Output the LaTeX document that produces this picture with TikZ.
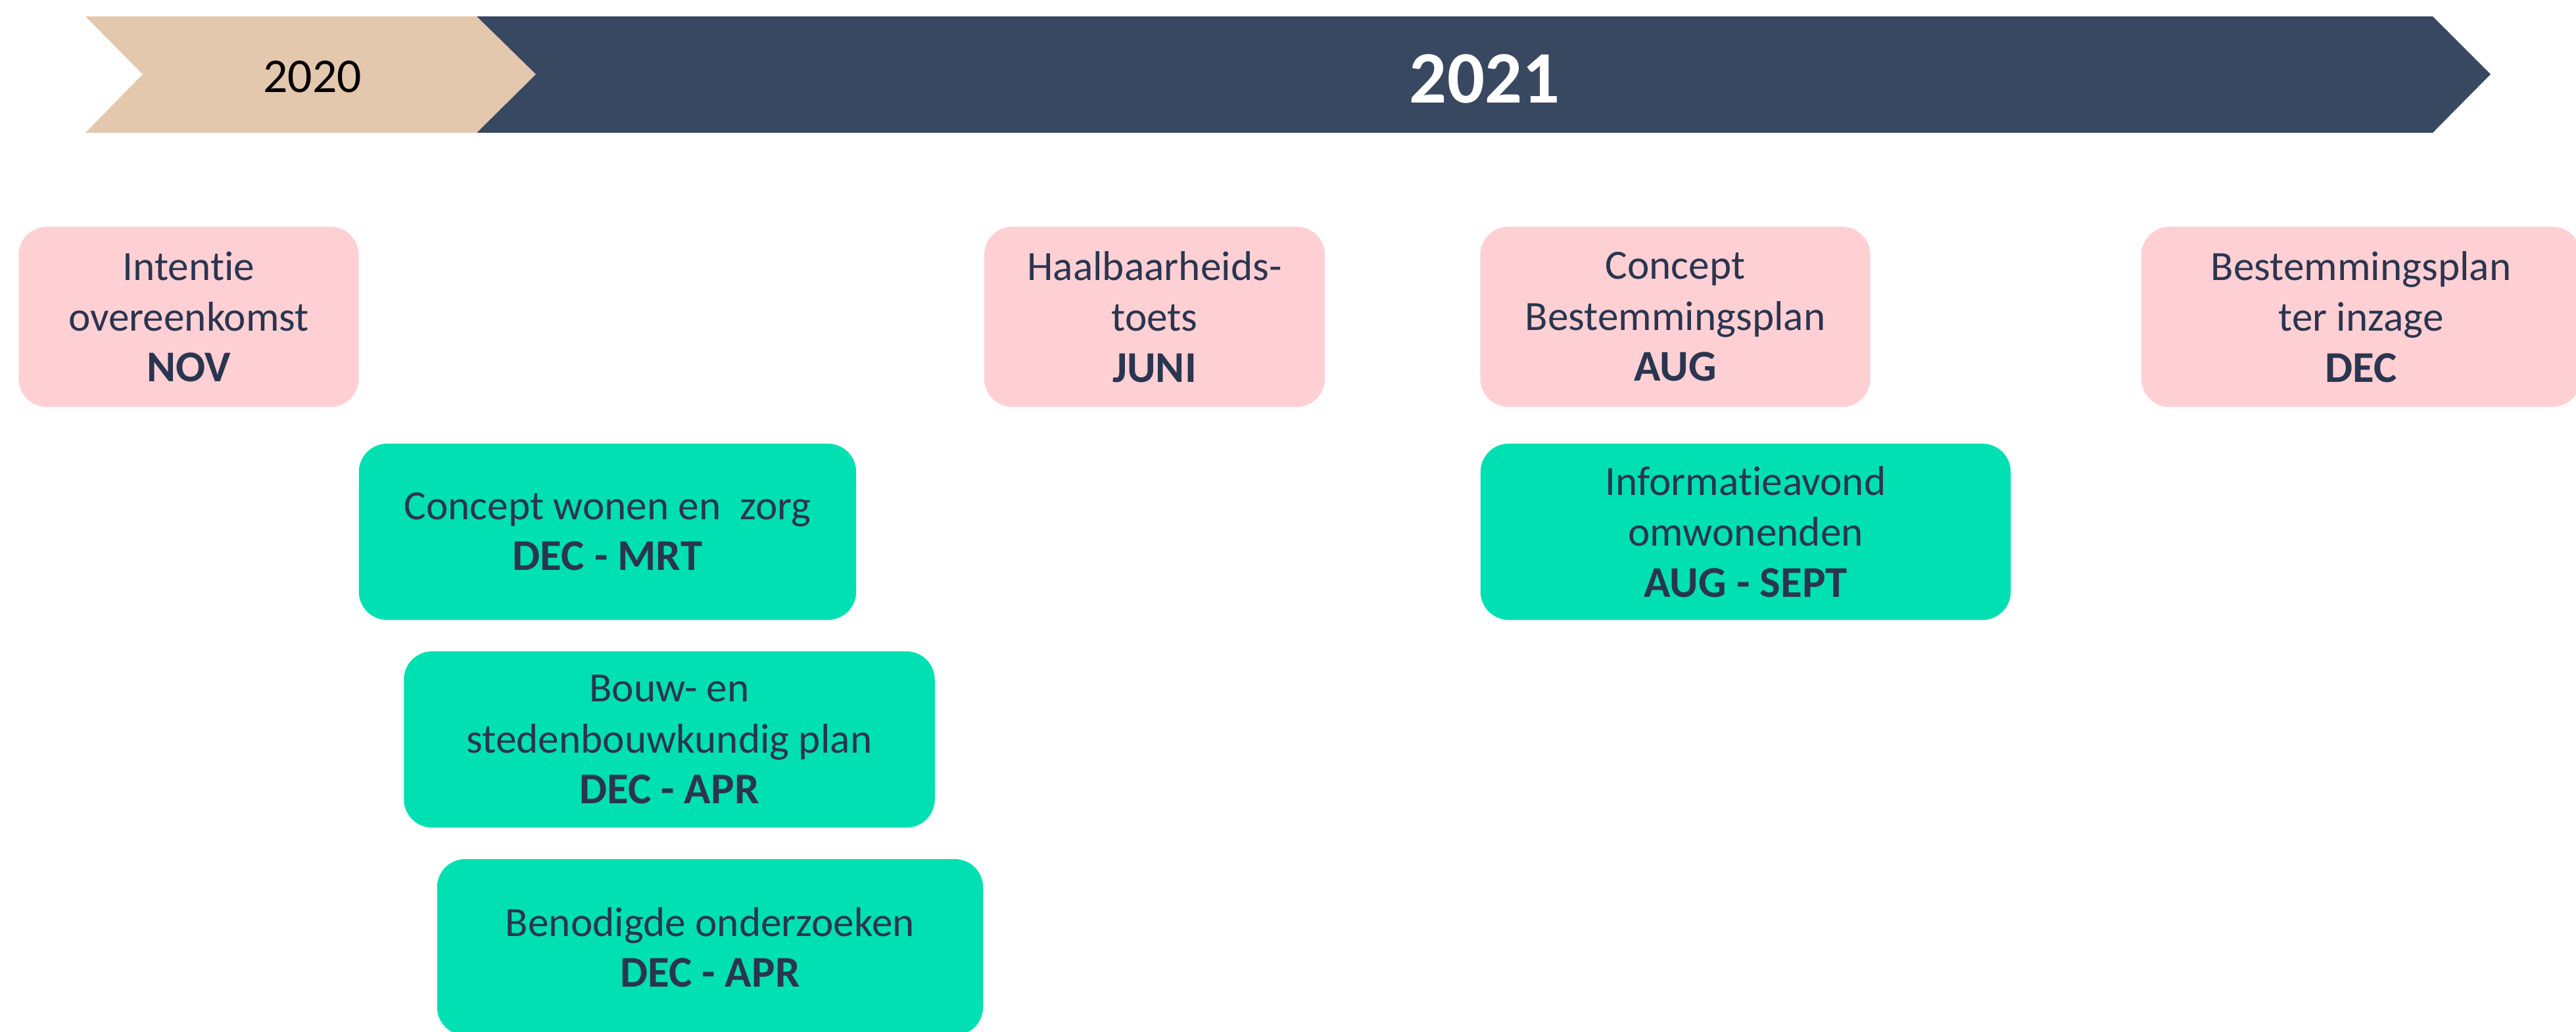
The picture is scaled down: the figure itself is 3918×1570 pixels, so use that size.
\documentclass[tikz,border=0pt]{standalone}
\usepackage{fontspec}
\setmainfont{Carlito}[Ligatures={NoCommon}]
\definecolor{beige}{HTML}{E4C8AD}
\definecolor{navy}{HTML}{384860}
\definecolor{rose}{HTML}{FFD0D3}
\definecolor{mint}{HTML}{00E0B2}
\definecolor{ink}{HTML}{2A3550}
\newcommand{\when}[1]{{\fontsize{19}{22}\selectfont\bfseries #1}}

\begin{document}
\begin{tikzpicture}[x=0.01cm, y=-0.01cm,
    box/.style={rectangle, rounded corners=0.43cm, inner sep=0pt, align=center,
      text=ink, font=\fontsize{18}{22}\selectfont},
    milestone/.style={box, fill=rose, minimum height=2.74cm},
    phase/.style={box, fill=mint, minimum height=2.68cm}]
    \useasboundingbox (0,0) rectangle (3918,1570);
    % year banner
    \fill[navy] (725,25) -- (3700,25) -- (3788,113) -- (3700,202) -- (725,202) -- cycle;
    \fill[beige] (130,25) -- (725,25) -- (815,113) -- (725,202) -- (130,202) -- (217,113) -- cycle;
    \node[font=\fontsize{21}{25}\selectfont] (y2020) at (475,117) {2020};
    \node[font=\fontsize{32}{38}\selectfont\bfseries, text=white] (y2021) at (2258,120) {2021};
    % milestones
    \node[milestone, minimum width=5.17cm] (intentie) at (287,482) {Intentie\\overeenkomst\\\when{NOV}};
    \node[milestone, minimum width=5.18cm] (toets) at (1756,482) {Haalbaarheids-\\toets\\\when{JUNI}};
    \node[milestone, minimum width=5.93cm] (concept) at (2548,482) {Concept\\Bestemmingsplan\\\when{AUG}};
    \node[milestone, minimum width=6.68cm] (inzage) at (3591,482) {Bestemmingsplan\\ter inzage\\\when{DEC}};
    % phases
    \node[phase, minimum width=7.56cm] (zorg) at (924,809) {Concept wonen en~ zorg\\\when{DEC - MRT}};
    \node[phase, minimum width=8.07cm] (bouw) at (1018,1125) {Bouw- en\\stedenbouwkundig plan\\\when{DEC - APR}};
    \node[phase, minimum width=8.30cm] (onderzoek) at (1080,1441) {Benodigde onderzoeken\\\when{DEC - APR}};
    \node[phase, minimum width=8.06cm] (avond) at (2655,809) {Informatieavond\\omwonenden\\\when{AUG - SEPT}};
\end{tikzpicture}
\end{document}
